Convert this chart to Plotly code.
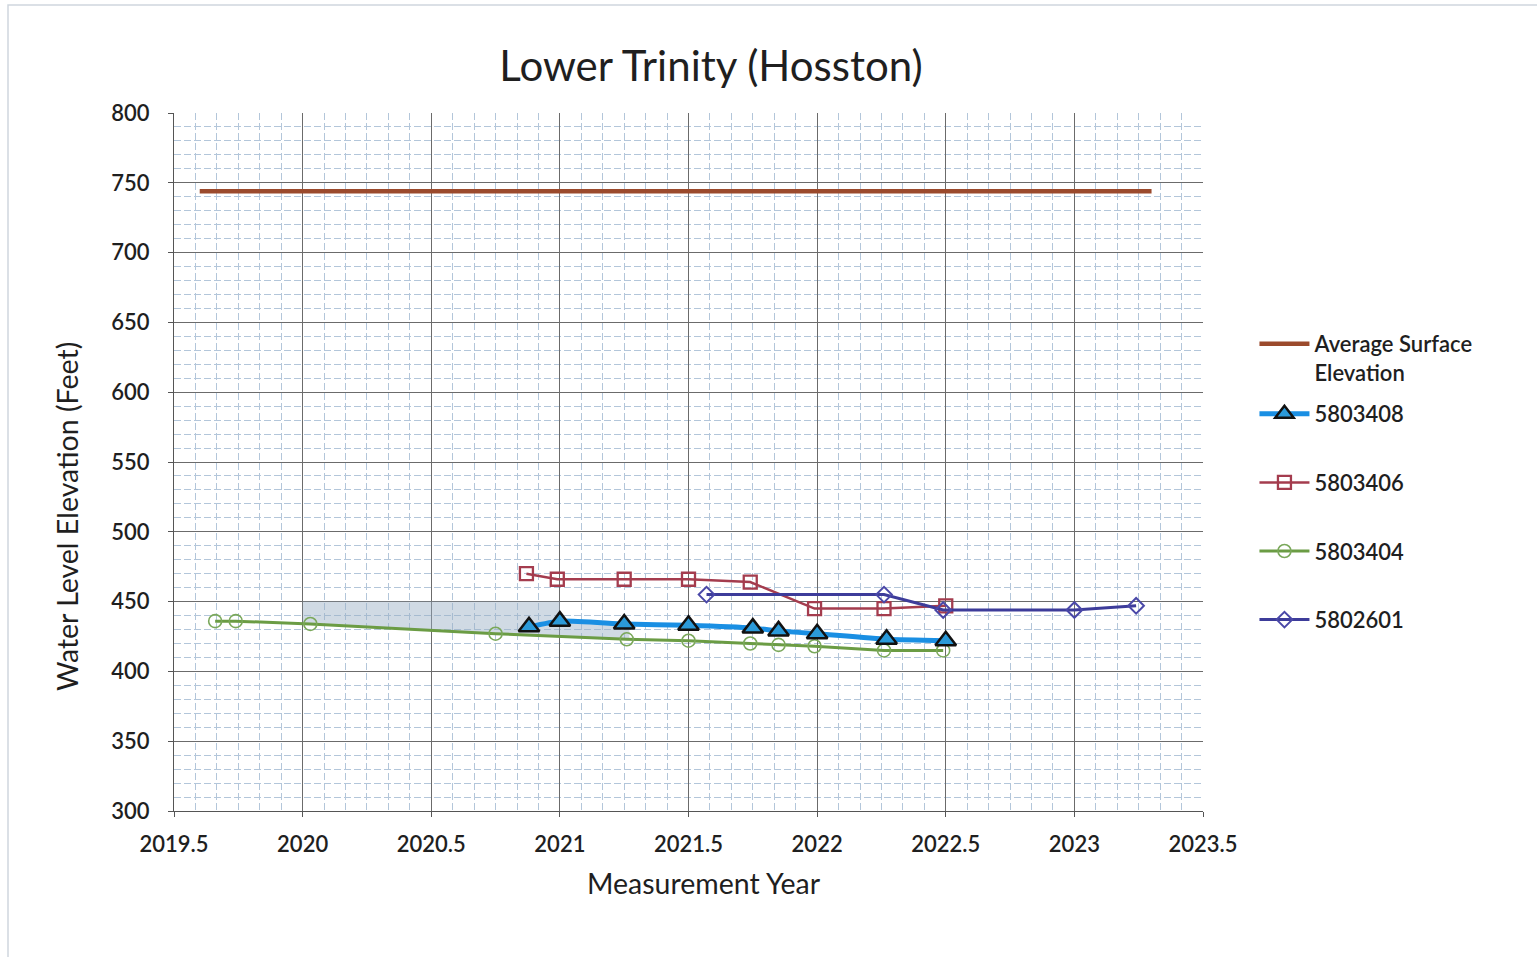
import numpy as np
import plotly.graph_objects as go

# Average land-surface elevation over the monitoring period
surf_x = [2019.60, 2023.30]
surf_y = [744, 744]

# Well 5803408
w408_x = [2020.88, 2021.00, 2021.25, 2021.50, 2021.75, 2021.85, 2022.00, 2022.27, 2022.50]
w408_y = [432, 436, 434, 433, 431, 429, 427, 423, 422]

# Well 5803406
w406_x = [2020.87, 2020.99, 2021.25, 2021.50, 2021.74, 2021.99, 2022.26, 2022.50]
w406_y = [470, 466, 466, 466, 464, 445, 445, 447]

# Well 5803404
w404_x = [2019.66, 2019.74, 2020.03, 2020.75, 2021.26, 2021.50, 2021.74, 2021.85, 2021.99, 2022.26, 2022.49]
w404_y = [436, 436, 434, 427, 423, 422, 420, 419, 418, 415, 415]

# Well 5802601
w601_x = [2021.57, 2022.26, 2022.49, 2023.00, 2023.24]
w601_y = [455, 455, 444, 444, 447]

# Highlighted band between the 450 ft line and the 5803404 record
shade_x_start = 2020.0
shade_x_mid = 2021.0
shade_x_end = 2021.27
shade_top = 450

x_ticks = [2019.5, 2020, 2020.5, 2021, 2021.5, 2022, 2022.5, 2023, 2023.5]
y_ticks = [300, 350, 400, 450, 500, 550, 600, 650, 700, 750, 800]

FONT = "Lato"
TXT = "#1f1f1f"

# build the shaded polygon from the series themselves
gx = np.array(w404_x)
gy = np.array(w404_y)
bx = np.array(w408_x)
by = np.array(w408_y)
low_x = np.linspace(shade_x_start, shade_x_end, 30)
low_y = np.interp(low_x, gx, gy)
up_x = np.linspace(shade_x_mid, shade_x_end, 10)
up_y = np.interp(up_x, bx, by)
poly_x = [shade_x_start, shade_x_mid] + list(up_x) + list(low_x[::-1])
poly_y = [shade_top, shade_top] + list(up_y) + list(low_y[::-1])

fig = go.Figure()

fig.add_trace(go.Scatter(
    x=poly_x, y=poly_y, mode="lines", fill="toself",
    fillcolor="rgba(150,172,196,0.45)", line=dict(width=0),
    showlegend=False, hoverinfo="skip"))

fig.add_trace(go.Scatter(
    x=surf_x, y=surf_y, mode="lines", name="Average Surface<br>Elevation",
    line=dict(color="#9b4a2c", width=4.5), legend="legend"))

fig.add_trace(go.Scatter(
    x=w404_x, y=w404_y, mode="lines+markers", name="5803404",
    line=dict(color="#6b9c44", width=3),
    marker=dict(symbol="circle-open", size=13, color="#7aa85a", line=dict(width=1.6)),
    legend="legend2", legendrank=3, legendgroup="d"))

fig.add_trace(go.Scatter(
    x=w406_x, y=w406_y, mode="lines+markers", name="5803406",
    line=dict(color="#a43c4e", width=2.5),
    marker=dict(symbol="square-open", size=13, color="#a43c4e", line=dict(width=2.3)),
    legend="legend2", legendrank=2, legendgroup="c"))

fig.add_trace(go.Scatter(
    x=w601_x, y=w601_y, mode="lines+markers", name="5802601",
    line=dict(color="#3d3c9a", width=3),
    marker=dict(symbol="diamond-open", size=12, color="#4a48a8", line=dict(width=2)),
    legend="legend2", legendrank=4, legendgroup="e"))

fig.add_trace(go.Scatter(
    x=w408_x, y=w408_y, mode="lines+markers", name="5803408",
    line=dict(color="#1a8fe3", width=5, shape="spline", smoothing=0.5),
    marker=dict(symbol="triangle-up", size=18, color="#2b9ad9",
                line=dict(color="#111111", width=2.5)),
    legend="legend2", legendrank=1, legendgroup="b"))

tick_font = dict(family=FONT, size=22, color=TXT, weight=600)

axis_common = dict(
    showline=True, linecolor="#555555", linewidth=1.2, mirror=False,
    showgrid=True, gridcolor="#6b6b6b", gridwidth=1,
    ticks="outside", ticklen=5, tickcolor="#555555",
    tickfont=tick_font,
    zeroline=False,
)

minor_grid = dict(showgrid=True, gridcolor="#b3c6da", griddash="7px,3px", gridwidth=1)

fig.update_xaxes(
    range=[2019.5, 2023.5], tickvals=x_ticks, ticktext=[f"{v:g}" for v in x_ticks],
    ticklabelstandoff=8,
    minor=dict(dtick=1 / 12, tick0=2019.5, **minor_grid),
    **axis_common)
fig.update_yaxes(
    range=[300, 800], tickvals=y_ticks, ticklabelstandoff=14,
    minor=dict(dtick=10, tick0=300, **minor_grid),
    **axis_common)

legend_font = dict(family=FONT, size=22, color=TXT, weight=600)

fig.update_layout(
    width=1537, height=957,
    margin=dict(l=174, r=334, t=113, b=146),
    paper_bgcolor="white", plot_bgcolor="white",
    title=dict(text="Lower Trinity (Hosston)", x=(711 / 1537), xanchor="center",
               y=1 - 66 / 957, yanchor="middle",
               font=dict(family=FONT, size=42, color=TXT)),
    legend=dict(x=1.05, xanchor="left", y=(811 - 323) / 698, yanchor="top",
                font=legend_font, valign="top",
                itemwidth=50, bgcolor="rgba(0,0,0,0)"),
    legend2=dict(x=1.05, xanchor="left", y=(811 - 393) / 698, yanchor="top",
                 font=legend_font, itemwidth=50, tracegroupgap=37,
                 bgcolor="rgba(0,0,0,0)", traceorder="grouped"),
    showlegend=True,
    annotations=[
        dict(text="Water Level Elevation (Feet)", textangle=-90,
             xref="paper", yref="paper", x=(67 - 174) / 1029, y=(811 - 517) / 698,
             xanchor="center", yanchor="middle", showarrow=False,
             font=dict(family=FONT, size=28.5, color=TXT)),
        dict(text="Measurement Year",
             xref="paper", yref="paper", x=(704 - 174) / 1029, y=-(883 - 811) / 698,
             xanchor="center", yanchor="middle", showarrow=False,
             font=dict(family=FONT, size=28.5, color=TXT)),
    ],
    shapes=[
        dict(type="rect", xref="paper", yref="paper",
             x0=(8 - 174) / 1029, x1=(1545 - 174) / 1029,
             y0=(811 - 965) / 698, y1=(811 - 5) / 698,
             line=dict(color="#cfd6de", width=1.5), fillcolor="rgba(0,0,0,0)",
             layer="below"),
    ],
)

fig.write_html("out.html")
